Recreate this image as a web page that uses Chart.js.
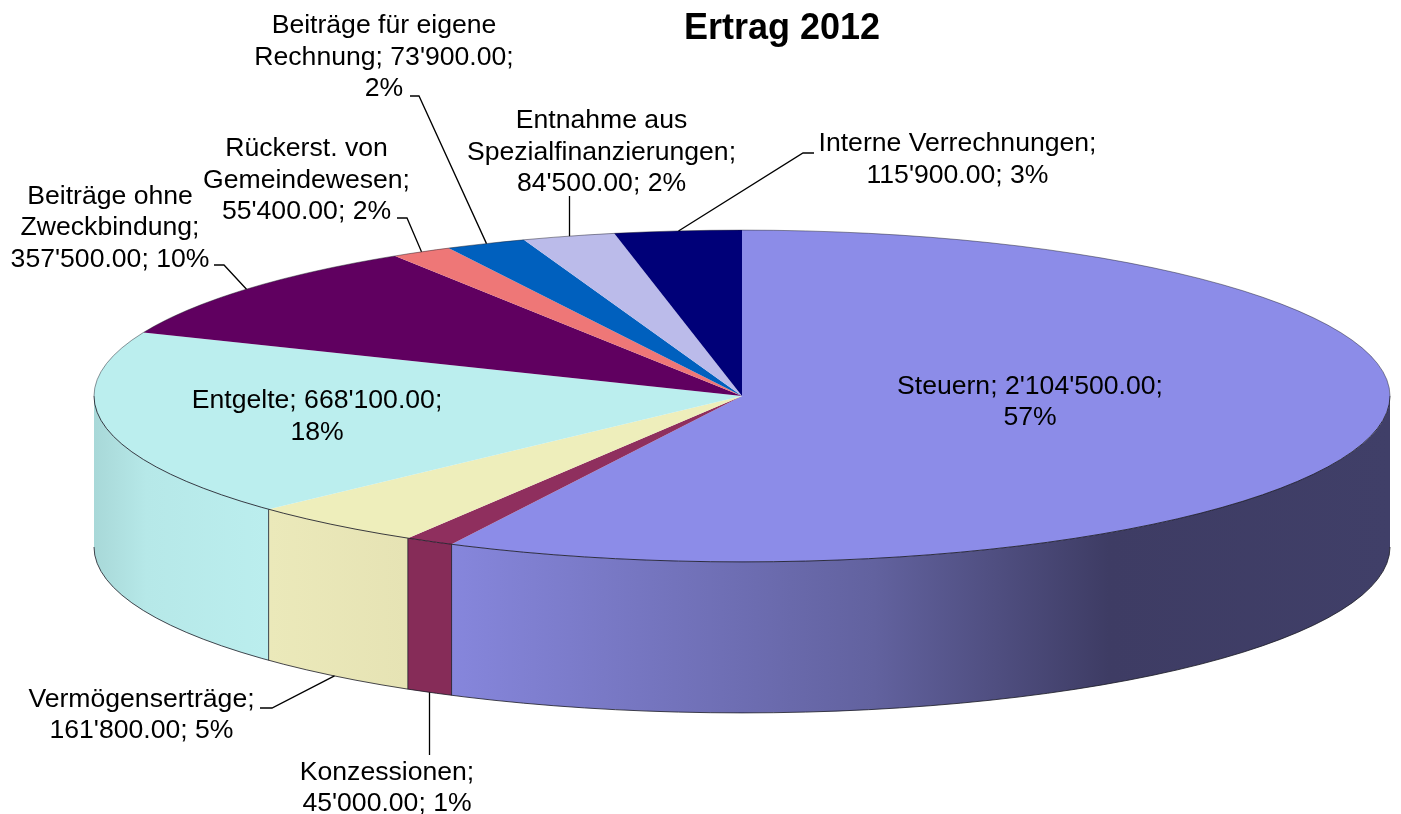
<!DOCTYPE html>
<html>
<head>
<meta charset="utf-8">
<title>Ertrag 2012</title>
<script src="https://cdn.jsdelivr.net/npm/chart.js@4/dist/chart.umd.min.js"></script>
<style>
  html, body { margin: 0; padding: 0; background: #fff; }
  canvas { display: block; }
</style>
</head>
<body>
<canvas id="Chart" width="1401" height="814"></canvas>
<script>
// data, clockwise from 12 o'clock
const chartTitle = 'Ertrag 2012';
const categories = ['Steuern', 'Konzessionen', 'Vermögenserträge', 'Entgelte', 'Beiträge ohne Zweckbindung',
  'Rückerst. von Gemeindewesen', 'Beiträge für eigene Rechnung', 'Entnahme aus Spezialfinanzierungen', 'Interne Verrechnungen'];
const values = [2104500, 45000, 161800, 668100, 357500, 55400, 73900, 84500, 115900];
const percents = [57, 1, 5, 18, 10, 2, 2, 2, 3];
const labelLines = [
  ["Steuern; 2'104'500.00;", "57%"],
  ["Konzessionen;", "45'000.00; 1%"],
  ["Vermögenserträge;", "161'800.00; 5%"],
  ["Entgelte; 668'100.00;", "18%"],
  ["Beiträge ohne", "Zweckbindung;", "357'500.00; 10%"],
  ["Rückerst. von", "Gemeindewesen;", "55'400.00; 2%"],
  ["Beiträge für eigene", "Rechnung; 73'900.00;", "2%"],
  ["Entnahme aus", "Spezialfinanzierungen;", "84'500.00; 2%"],
  ["Interne Verrechnungen;", "115'900.00; 3%"]
];

// colours
const topColors = ['#8c8ce8', '#8f2f5e', '#eeeebb', '#bbeeee', '#600060', '#ee7777', '#0060be', '#bbbbea', '#000078'];
const sideStops = [
  [[0, '#8686dc'], [0.45, '#62629f'], [0.7, '#3e3c64'], [1, '#403f68']],
  [[0, '#862c58'], [1, '#862c58']],
  [[0, '#ebe9ba'], [1, '#e6e3b4']],
  [[0, '#a8d8d8'], [0.3, '#b6e8e8'], [1, '#bbeeee']]
];

// layout of the flattened pie
const centerX = 742, centerY = 396, radius = 648, squash = 0.256, depth = 151;
// x centre and y of the first line of each label, then line height
const labelPos = [[1030, 385], [387, 771], [141.5, 698], [317, 399.5], [110, 195], [306.5, 147.5], [384, 24.5], [601.5, 119.5], [957.5, 142.5]];
const lineHeight = 31.5;
// elbows of the leader lines, the other end sits on the pie edge; null x = straight up or down
const leaders = {
  1: [[null, 755]],
  2: [[272, 708], [260, 708]],
  4: [[224, 265], [214, 265]],
  5: [[407, 218], [397, 218]],
  6: [[419, 96], [410, 96]],
  7: [[null, 196]],
  8: [[803, 153], [814, 153]]
};

function sidePath(ctx, from, to) {
  ctx.beginPath();
  ctx.ellipse(centerX, centerY + depth, radius, radius * squash, 0, from, to);
  ctx.ellipse(centerX, centerY, radius, radius * squash, 0, to, from, true);
  ctx.closePath();
}

const pie3d = {
  id: 'pie3d',
  beforeDatasetsDraw(chart) {
    const ctx = chart.ctx;
    const arcs = chart.getDatasetMeta(0).data;
    ctx.save();
    ctx.strokeStyle = 'rgba(25,25,35,0.8)';
    ctx.lineWidth = 1;
    arcs.forEach((arc, i) => {
      const from = Math.max(arc.startAngle, 0);
      const to = Math.min(arc.endAngle, Math.PI);
      if (to <= from) return;
      const x0 = centerX + radius * Math.cos(to);
      const x1 = centerX + radius * Math.cos(from);
      const grad = ctx.createLinearGradient(x0, 0, x1, 0);
      sideStops[i].forEach(s => grad.addColorStop(s[0], s[1]));
      sidePath(ctx, from, to);
      ctx.fillStyle = grad;
      ctx.fill();
      // seam on the right side of each front slice
      if (from > 0) {
        const sy = centerY + radius * squash * Math.sin(from);
        ctx.beginPath();
        ctx.moveTo(x1, sy);
        ctx.lineTo(x1, sy + depth);
        ctx.stroke();
      }
    });
    // lower edge of the wall
    ctx.beginPath();
    ctx.ellipse(centerX, centerY + depth, radius, radius * squash, 0, 0, Math.PI);
    ctx.stroke();
    ctx.restore();

    // the library draws the top face, squashed into an ellipse
    ctx.save();
    ctx.translate(centerX, centerY);
    ctx.scale(1, squash);
    ctx.translate(-centerX, -centerY);
  },
  afterDatasetsDraw(chart) {
    const ctx = chart.ctx;
    ctx.restore();
    // thin edge round the top face
    ctx.save();
    ctx.lineWidth = 1;
    ctx.strokeStyle = 'rgba(25,25,35,0.45)';
    ctx.beginPath();
    ctx.ellipse(centerX, centerY, radius, radius * squash, 0, Math.PI, 2 * Math.PI);
    ctx.stroke();
    ctx.strokeStyle = 'rgba(25,25,35,0.85)';
    ctx.beginPath();
    ctx.ellipse(centerX, centerY, radius, radius * squash, 0, 0, Math.PI);
    ctx.stroke();
    ctx.restore();
  },
  afterDraw(chart) {
    const ctx = chart.ctx;
    const arcs = chart.getDatasetMeta(0).data;
    ctx.save();

    // leader lines
    ctx.strokeStyle = '#000';
    ctx.lineWidth = 1.3;
    Object.keys(leaders).forEach(k => {
      const arc = arcs[k];
      const mid = (arc.startAngle + arc.endAngle) / 2;
      const px = Math.round(centerX + radius * Math.cos(mid)) + 0.5;
      let py = centerY + radius * squash * Math.sin(mid);
      if (Math.sin(mid) > 0) py += depth;
      ctx.beginPath();
      ctx.moveTo(px, py);
      leaders[k].forEach(p => ctx.lineTo(p[0] === null ? px : p[0], p[1]));
      ctx.stroke();
    });

    // texts
    ctx.fillStyle = '#000';
    ctx.textAlign = 'center';
    ctx.textBaseline = 'middle';
    ctx.font = 'bold 36px "Liberation Sans", Arial, sans-serif';
    ctx.fillText(chartTitle, 782, 29);
    ctx.font = '26.6px "Liberation Sans", Arial, sans-serif';
    labelLines.forEach((lines, i) => {
      lines.forEach((line, j) => {
        ctx.fillText(line, labelPos[i][0], labelPos[i][1] + 1.5 + j * lineHeight);
      });
    });
    ctx.restore();
  }
};

new Chart(document.getElementById('Chart').getContext('2d'), {
  type: 'pie',
  data: {
    labels: categories,
    datasets: [{
      data: values,
      backgroundColor: topColors,
      borderWidth: 0,
      radius: radius,
      clip: false
    }]
  },
  options: {
    responsive: false,
    animation: false,
    // moves the chart area centre onto centerX / centerY
    layout: { padding: { left: 2 * centerX - 1401, bottom: 814 - 2 * centerY } },
    plugins: {
      legend: { display: false },
      tooltip: { enabled: false }
    }
  },
  plugins: [pie3d]
});
</script>
</body>
</html>
